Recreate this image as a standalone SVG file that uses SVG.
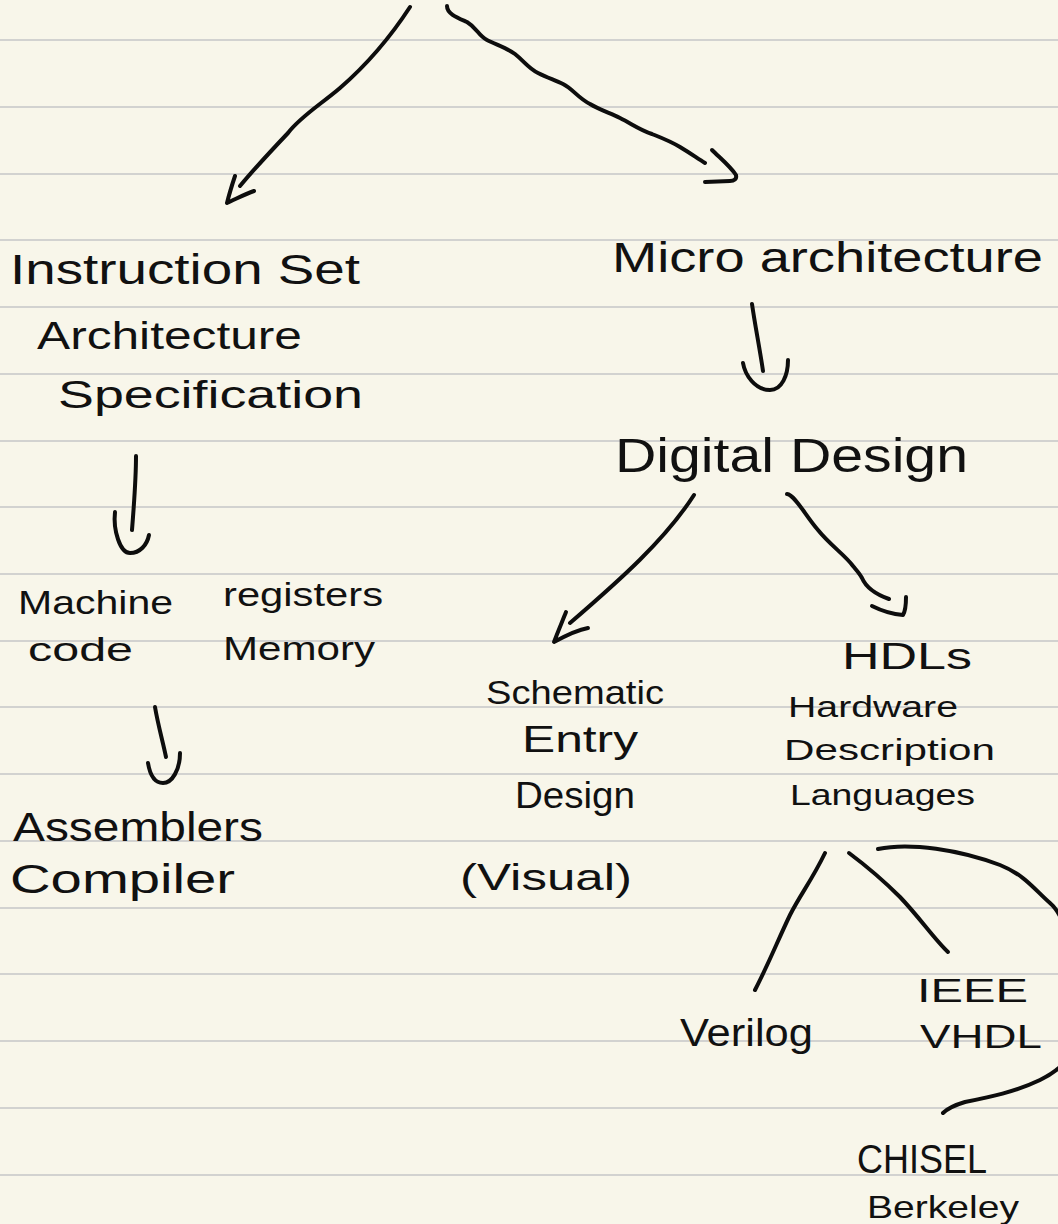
<svg xmlns="http://www.w3.org/2000/svg" width="1058" height="1224" viewBox="0 0 1058 1224">
  <style>
    .paper { fill: #f8f6ea; }
    .rule { stroke: #d2d2d0; stroke-width: 2; }
    .ink { fill: none; stroke: #0d0d0d; stroke-width: 4; stroke-linecap: round; stroke-linejoin: round; }
    .hw { font-family: "Liberation Sans", "DejaVu Sans", sans-serif; fill: #111; }
  </style>

  <!-- notebook paper -->
  <rect class="paper" x="0" y="0" width="1058" height="1224"/>
  <g id="rules">
    <line class="rule" x1="0" y1="40" x2="1058" y2="40"/>
    <line class="rule" x1="0" y1="107" x2="1058" y2="107"/>
    <line class="rule" x1="0" y1="174" x2="1058" y2="174"/>
    <line class="rule" x1="0" y1="240" x2="1058" y2="240"/>
    <line class="rule" x1="0" y1="307" x2="1058" y2="307"/>
    <line class="rule" x1="0" y1="374" x2="1058" y2="374"/>
    <line class="rule" x1="0" y1="441" x2="1058" y2="441"/>
    <line class="rule" x1="0" y1="507" x2="1058" y2="507"/>
    <line class="rule" x1="0" y1="574" x2="1058" y2="574"/>
    <line class="rule" x1="0" y1="641" x2="1058" y2="641"/>
    <line class="rule" x1="0" y1="707" x2="1058" y2="707"/>
    <line class="rule" x1="0" y1="774" x2="1058" y2="774"/>
    <line class="rule" x1="0" y1="841" x2="1058" y2="841"/>
    <line class="rule" x1="0" y1="908" x2="1058" y2="908"/>
    <line class="rule" x1="0" y1="974" x2="1058" y2="974"/>
    <line class="rule" x1="0" y1="1041" x2="1058" y2="1041"/>
    <line class="rule" x1="0" y1="1108" x2="1058" y2="1108"/>
    <line class="rule" x1="0" y1="1175" x2="1058" y2="1175"/>
  </g>

  <!-- connectors -->
  <g id="connectors">
    <!-- root to instruction set -->
    <path class="ink" d="M410,7 C395,30 370,62 340,88 C320,105 300,117 288,133 C270,152 255,168 240,186"/>
    <path class="ink" d="M235,176 C232,185 229,195 227,203 C236,199 245,194 254,191"/>
    <!-- root to micro architecture -->
    <path class="ink" d="M447,6 C447,14 458,18 467,22 C477,28 478,35 487,40 C497,45 507,48 515,54 C525,62 528,68 538,73 C548,78 555,80 563,84 C573,89 578,98 590,104 C600,110 610,113 620,118 C632,124 640,130 652,134 C662,138 670,141 680,147 C690,153 697,158 705,163"/>
    <path class="ink" d="M712,150 C720,158 730,166 736,175 C737,179 734,181 730,181 L705,182"/>
    <!-- micro architecture to digital design -->
    <path class="ink" d="M752,304 C755,325 760,350 763,371"/>
    <path class="ink" d="M743,363 C745,375 755,390 770,390 C782,390 788,375 788,360"/>
    <!-- specification to machine code -->
    <path class="ink" d="M136,456 C136,480 134,505 132,530"/>
    <path class="ink" d="M115,512 C113,530 120,553 130,553 C140,553 147,545 149,535"/>
    <!-- machine code to assemblers -->
    <path class="ink" d="M155,707 C158,725 163,742 166,757"/>
    <path class="ink" d="M148,763 C150,775 155,783 163,783 C172,783 180,770 180,753"/>
    <!-- digital design to schematic entry -->
    <path class="ink" d="M694,495 C665,540 620,580 570,623"/>
    <path class="ink" d="M566,612 C562,622 557,634 554,642 C565,636 577,630 588,628"/>
    <!-- digital design to HDLs -->
    <path class="ink" d="M787,494 C795,495 805,515 818,530 C830,545 845,555 853,566 C858,572 860,574 862,578 C865,585 872,593 889,599"/>
    <path class="ink" d="M872,606 C880,610 890,614 903,615 C906,610 906,603 906,597"/>
    <!-- HDLs to Verilog -->
    <path class="ink" d="M825,853 C812,880 800,895 790,915 C778,940 768,965 755,990"/>
    <!-- HDLs to VHDL -->
    <path class="ink" d="M849,853 C865,865 885,882 900,897 C920,918 935,940 948,952"/>
    <!-- HDLs to CHISEL, looping past the right margin -->
    <path class="ink" d="M878,849 C910,842 960,850 1000,865 C1025,875 1035,890 1050,903 C1070,920 1080,980 1075,1040 C1070,1060 1060,1070 1040,1080 C1015,1092 990,1097 965,1102 C955,1105 948,1108 943,1113"/>
  </g>

  <!-- nodes -->
  <g id="node-isa">
    <text class="hw" x="10" y="284" font-size="42" textLength="350" lengthAdjust="spacingAndGlyphs">Instruction Set</text>
    <text class="hw" x="37" y="349" font-size="38" textLength="265" lengthAdjust="spacingAndGlyphs">Architecture</text>
    <text class="hw" x="58" y="408" font-size="38" textLength="305" lengthAdjust="spacingAndGlyphs">Specification</text>
  </g>
  <g id="node-micro">
    <text class="hw" x="612" y="272" font-size="42" textLength="431" lengthAdjust="spacingAndGlyphs">Micro architecture</text>
  </g>
  <g id="node-digital">
    <text class="hw" x="615" y="472" font-size="48" textLength="353" lengthAdjust="spacingAndGlyphs">Digital Design</text>
  </g>
  <g id="node-machine">
    <text class="hw" x="18" y="614" font-size="34" textLength="155" lengthAdjust="spacingAndGlyphs">Machine</text>
    <text class="hw" x="28" y="661" font-size="34" textLength="105" lengthAdjust="spacingAndGlyphs">code</text>
    <text class="hw" x="223" y="606" font-size="34" textLength="160" lengthAdjust="spacingAndGlyphs">registers</text>
    <text class="hw" x="223" y="660" font-size="34" textLength="152" lengthAdjust="spacingAndGlyphs">Memory</text>
  </g>
  <g id="node-assemblers">
    <text class="hw" x="13" y="841" font-size="40" textLength="250" lengthAdjust="spacingAndGlyphs">Assemblers</text>
    <text class="hw" x="10" y="893" font-size="40" textLength="225" lengthAdjust="spacingAndGlyphs">Compiler</text>
  </g>
  <g id="node-schematic">
    <text class="hw" x="486" y="704" font-size="34" textLength="178" lengthAdjust="spacingAndGlyphs">Schematic</text>
    <text class="hw" x="522" y="752" font-size="36" textLength="116" lengthAdjust="spacingAndGlyphs">Entry</text>
    <text class="hw" x="515" y="808" font-size="36" textLength="120" lengthAdjust="spacingAndGlyphs">Design</text>
    <text class="hw" x="460" y="890" font-size="36" textLength="172" lengthAdjust="spacingAndGlyphs">(Visual)</text>
  </g>
  <g id="node-hdls">
    <text class="hw" x="842" y="669" font-size="36" textLength="130" lengthAdjust="spacingAndGlyphs">HDLs</text>
    <text class="hw" x="788" y="717" font-size="30" textLength="170" lengthAdjust="spacingAndGlyphs">Hardware</text>
    <text class="hw" x="784" y="760" font-size="30" textLength="211" lengthAdjust="spacingAndGlyphs">Description</text>
    <text class="hw" x="790" y="805" font-size="30" textLength="185" lengthAdjust="spacingAndGlyphs">Languages</text>
  </g>
  <g id="node-verilog">
    <text class="hw" x="680" y="1046" font-size="38" textLength="133" lengthAdjust="spacingAndGlyphs">Verilog</text>
  </g>
  <g id="node-vhdl">
    <text class="hw" x="917" y="1002" font-size="34" textLength="111" lengthAdjust="spacingAndGlyphs">IEEE</text>
    <text class="hw" x="920" y="1048" font-size="34" textLength="122" lengthAdjust="spacingAndGlyphs">VHDL</text>
  </g>
  <g id="node-chisel">
    <text class="hw" x="857" y="1173" font-size="40" textLength="130" lengthAdjust="spacingAndGlyphs">CHISEL</text>
    <text class="hw" x="867" y="1218" font-size="32" textLength="152" lengthAdjust="spacingAndGlyphs">Berkeley</text>
  </g>
</svg>
